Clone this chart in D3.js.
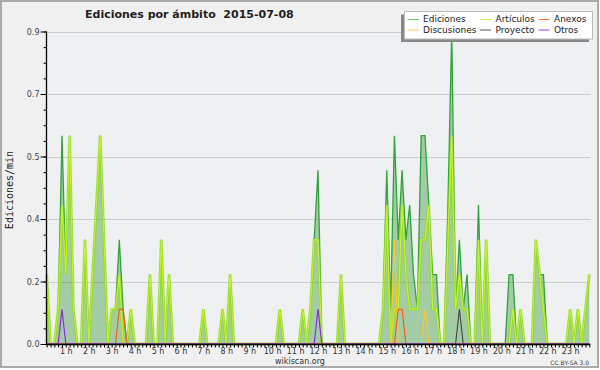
<!DOCTYPE html>
<html><head><meta charset="utf-8">
<script src="https://cdn.jsdelivr.net/npm/d3@7"></script>
<style>body{margin:0;background:#fff}svg{display:block}</style>
</head><body><svg id="c" width="600" height="370"></svg>
<script>
// ---- data (10-minute bins, edits per minute) ----
const hourLabels = ["1 h","2 h","3 h","4 h","5 h","6 h","7 h","8 h","9 h","10 h","11 h","12 h","13 h","14 h","15 h","16 h","17 h","18 h","19 h","20 h","21 h","22 h","23 h"];
const yTickValues = [0,0.18,0.36,0.54,0.72,0.9];
const yTickLabels = ["0.0","0.2","0.4","0.5","0.7","0.9"];
const seriesNames = ["Ediciones","Artículos","Anexos","Discusiones","Proyecto","Otros"];

const ediciones = [
0.2,0,0,0.1,0.6,0.2,0.6,0.1,0,0,0.3,0,
0.2,0.4,0.6,0.3,0,0.1,0.1,0.3,0.1,0,0.1,0,
0,0,0,0.2,0,0,0.3,0,0.2,0,0,0,
0,0,0,0,0,0.1,0,0,0,0,0.1,0,
0.2,0,0,0,0,0,0,0,0,0,0,0,
0,0.1,0,0,0,0,0,0.1,0,0.1,0.3,0.5,
0,0,0,0,0,0.2,0,0,0,0,0,0,
0,0,0,0,0.1,0.5,0.1,0.6,0.3,0.5,0.3,0.4,
0.2,0.1,0.6,0.6,0.4,0.2,0.2,0,0,0.4,0.9,0.1,
0.3,0.1,0.2,0,0,0.4,0,0.3,0,0,0,0,
0,0.2,0.2,0,0.1,0,0,0,0.3,0.2,0.2,0,
0,0,0,0,0,0.1,0,0.1,0,0.1,0.2];
const articulos = [
0.2,0,0,0.1,0.4,0.2,0.6,0.1,0,0,0.3,0,
0.2,0.4,0.6,0.3,0,0.1,0.1,0.2,0,0,0.1,0,
0,0,0,0.2,0,0,0.3,0,0.2,0,0,0,
0,0,0,0,0,0.1,0,0,0,0,0.1,0,
0.2,0,0,0,0,0,0,0,0,0,0,0,
0,0.1,0,0,0,0,0,0.1,0,0.1,0.3,0.3,
0,0,0,0,0,0.2,0,0,0,0,0,0,
0,0,0,0,0.1,0.4,0,0.1,0.1,0.4,0.2,0.1,
0.1,0.1,0.3,0.3,0.4,0.1,0.1,0,0,0.3,0.6,0.1,
0.2,0.1,0.1,0,0,0.3,0,0.3,0,0,0,0,
0,0,0.1,0,0.1,0,0,0,0.3,0.2,0.1,0,
0,0,0,0,0,0.1,0,0.1,0,0.1,0.2];
const anexos = [
0,0,0,0,0,0,0,0,0,0,0,0,
0,0,0,0,0,0,0,0.1,0.1,0,0,0,
0,0,0,0,0,0,0,0,0,0,0,0,
0,0,0,0,0,0,0,0,0,0,0,0,
0,0,0,0,0,0,0,0,0,0,0,0,
0,0,0,0,0,0,0,0,0,0,0,0,
0,0,0,0,0,0,0,0,0,0,0,0,
0,0,0,0,0,0,0,0,0.1,0.1,0,0,
0,0,0,0,0,0,0,0,0,0,0,0,
0,0,0,0,0,0,0,0,0,0,0,0,
0,0,0,0,0,0,0,0,0,0,0,0,
0,0,0,0,0,0,0,0,0,0,0];
const discusiones = [
0,0,0,0,0,0,0,0,0,0,0,0,
0,0,0,0,0,0,0,0,0,0,0,0,
0,0,0,0,0,0,0,0,0,0,0,0,
0,0,0,0,0,0,0,0,0,0,0,0,
0,0,0,0,0,0,0,0,0,0,0,0,
0,0,0,0,0,0,0,0,0,0,0,0,
0,0,0,0,0,0,0,0,0,0,0,0,
0,0,0,0,0,0,0,0.3,0,0,0,0,
0,0,0,0.1,0,0,0,0,0,0,0,0,
0,0,0,0,0,0,0,0,0,0,0,0,
0,0,0,0,0,0,0,0,0,0,0,0,
0,0,0,0,0,0,0,0,0,0,0];
const proyecto = [
0,0,0,0,0,0,0,0,0,0,0,0,
0,0,0,0,0,0,0,0,0,0,0,0,
0,0,0,0,0,0,0,0,0,0,0,0,
0,0,0,0,0,0,0,0,0,0,0,0,
0,0,0,0,0,0,0,0,0,0,0,0,
0,0,0,0,0,0,0,0,0,0,0,0,
0,0,0,0,0,0,0,0,0,0,0,0,
0,0,0,0,0,0,0,0,0,0,0,0,
0,0,0,0,0,0,0,0,0,0,0,0,
0.1,0,0,0,0,0,0,0,0,0,0,0,
0,0,0,0,0,0,0,0,0,0,0,0,
0,0,0,0,0,0,0,0,0,0,0];
const otros = [
0,0,0,0,0.1,0,0,0,0,0,0,0,
0,0,0,0,0,0,0,0,0,0,0,0,
0,0,0,0,0,0,0,0,0,0,0,0,
0,0,0,0,0,0,0,0,0,0,0,0,
0,0,0,0,0,0,0,0,0,0,0,0,
0,0,0,0,0,0,0,0,0,0,0,0.1,
0,0,0,0,0,0,0,0,0,0,0,0,
0,0,0,0,0,0,0,0,0,0,0,0,
0,0,0,0,0,0,0,0,0,0,0,0,
0,0,0,0,0,0,0,0,0,0,0,0,
0,0,0,0,0,0,0,0,0,0,0,0,
0,0,0,0,0,0,0,0,0,0,0];

// ---- drawing ----
const svg = d3.select("#c");
const F = "DejaVu Sans, Verdana, sans-serif";
svg.append("rect").attr("x",1).attr("y",1).attr("width",597).attr("height",366)
  .attr("fill","#f0f0f0").attr("stroke","#aaaaaa").attr("stroke-width",2);

const L = 46.7, R = 589.3, T = 31.5, B = 344;
const x = d3.scaleLinear().domain([0, ediciones.length-1]).range([L, R]);
const y = d3.scaleLinear().domain([0, 0.9]).range([B, T]);

svg.append("rect").attr("x",46).attr("y",T).attr("width",R-46+1).attr("height",B-T)
  .attr("fill","#eff0f2");

// grid
svg.append("g").selectAll("line").data(yTickValues.slice(1)).join("line")
  .attr("x1",47).attr("x2",R+1).attr("y1",d=>Math.round(y(d))+0.5).attr("y2",d=>Math.round(y(d))+0.5)
  .attr("stroke","#cccccc").attr("stroke-width",1);

const gPlot = svg.append("g");
const area = d3.area().x((d,i)=>x(i)).y0(B).y1(d=>y(d));
const line = d3.line().x((d,i)=>x(i)).y(d=>y(d));
gPlot.append("path").datum(ediciones).attr("d",area).attr("fill","#3a9a3e").attr("fill-opacity",0.42);
gPlot.append("path").datum(ediciones).attr("d",line).attr("fill","none").attr("stroke","#2fa43a").attr("stroke-width",1.3);
gPlot.append("path").datum(articulos).attr("d",line).attr("fill","none").attr("stroke","#90d81a").attr("stroke-width",2.8).attr("stroke-opacity",0.7);
gPlot.append("path").datum(articulos).attr("d",line).attr("fill","none").attr("stroke","#c8f52a").attr("stroke-width",1.1);
gPlot.append("path").datum(discusiones).attr("d",line).attr("fill","none").attr("stroke","#ffc61e").attr("stroke-width",1.2);
gPlot.append("path").datum(anexos).attr("d",line).attr("fill","none").attr("stroke","#ff5a14").attr("stroke-width",1.2);
gPlot.append("path").datum(proyecto).attr("d",line).attr("fill","none").attr("stroke","#444444").attr("stroke-width",1.1);
gPlot.append("path").datum(otros).attr("d",line).attr("fill","none").attr("stroke","#8a2be2").attr("stroke-width",1.2);

// y axis
const minor = d3.range(0, 21).map(k => k*0.045);
const yMinor = svg.append("g").attr("transform","translate(46.5,0)")
  .call(d3.axisLeft(y).tickValues(minor).tickSize(3).tickFormat(""));
const yAx = svg.append("g").attr("transform","translate(46.5,0)")
  .call(d3.axisLeft(y).tickValues(yTickValues).tickSize(6).tickPadding(1).tickFormat((d,i)=>yTickLabels[i]));
[yMinor,yAx].forEach(g=>{g.select(".domain").remove(); g.selectAll("line").attr("stroke","#000");});
yAx.selectAll("text").attr("font-family",F).attr("font-size",8).attr("fill","#444");
svg.append("line").attr("x1",46.5).attr("x2",46.5).attr("y1",T).attr("y2",B+1).attr("stroke","#000").attr("stroke-width",1.3);

// x axis
const xAx = svg.append("g").attr("transform",`translate(0,${B+0.5})`)
  .call(d3.axisBottom(x).tickValues(d3.range(ediciones.length)).tickSize(3).tickFormat(""));
xAx.select(".domain").remove();
xAx.selectAll("line").attr("stroke","#000");
svg.append("line").attr("x1",46).attr("x2",R+1).attr("y1",B+0.5).attr("y2",B+0.5).attr("stroke","#000").attr("stroke-width",1.4);
const hourIdx = hourLabels.map((h,k)=>6*(k+1)-1);
const xLab = svg.append("g").attr("transform",`translate(0,${B+0.5})`)
  .call(d3.axisBottom(x).tickValues(hourIdx).tickSize(0).tickPadding(4).tickFormat((d,k)=>hourLabels[k]));
xLab.select(".domain").remove();
xLab.selectAll("text").attr("font-family",F).attr("font-size",8).attr("fill","#333");

// titles
svg.append("text").attr("x",85).attr("y",18).attr("font-family",F).attr("font-weight","bold")
  .attr("font-size",11).attr("fill","#222").style("white-space","pre").text("Ediciones por ámbito  2015-07-08");
svg.append("text").attr("transform","translate(13,190) rotate(-90)").attr("text-anchor","middle")
  .attr("font-family","DejaVu Sans Mono, monospace").attr("font-size",10).attr("fill","#222").text("Ediciones/min");
svg.append("text").attr("x",300).attr("y",364).attr("text-anchor","middle").attr("font-family",F)
  .attr("font-size",8).attr("fill","#333").text("wikiscan.org");
svg.append("text").attr("x",589).attr("y",365).attr("text-anchor","end").attr("font-family",F)
  .attr("font-size",6).attr("fill","#444").text("CC BY-SA 3.0");

// legend
const lg = svg.append("g");
lg.append("rect").attr("x",401).attr("y",14.5).attr("width",188).attr("height",27.5).attr("fill","#888");
lg.append("rect").attr("x",404.5).attr("y",11.5).attr("width",188).attr("height",27.5).attr("fill","#fff").attr("stroke","#bbb");
const legColors = ["#66cc66","#ccee44","#ff7744","#ffcc44","#555555","#9944ee"];
const colX = [407.5,480,538.5], rowY = [19,29.5];
seriesNames.forEach((n,k)=>{
  const cx = colX[k%3], cy = rowY[Math.floor(k/3)];
  lg.append("line").attr("x1",cx).attr("x2",cx+11).attr("y1",cy+0.5).attr("y2",cy+0.5).attr("stroke",legColors[k]);
  lg.append("text").attr("x",cx+15.5).attr("y",cy+3.3).attr("font-family",F).attr("font-size",9)
    .attr("fill","#222").text(n);
});
</script></body></html>
